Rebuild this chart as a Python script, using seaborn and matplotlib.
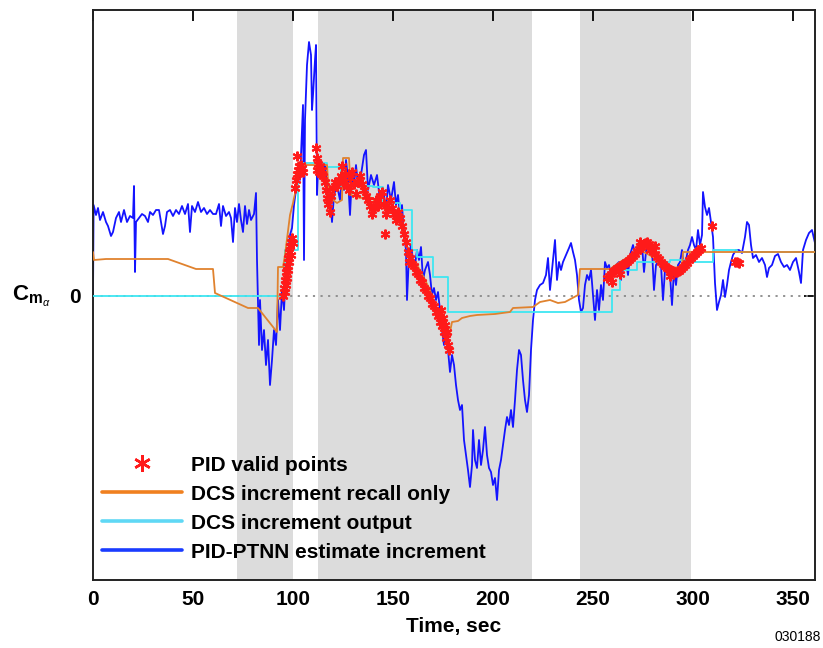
import matplotlib
matplotlib.use("Agg")
import matplotlib.pyplot as plt
from matplotlib.lines import Line2D
import seaborn as sns
import pandas as pd

sns.set_theme(style="white")
plt.rcParams["font.family"] = ["Liberation Sans", "DejaVu Sans"]
plt.rcParams["text.color"] = "black"
plt.rcParams["axes.labelcolor"] = "black"
plt.rcParams["xtick.color"] = "black"
plt.rcParams["ytick.color"] = "black"
plt.rcParams["mathtext.fontset"] = "custom"
plt.rcParams["mathtext.rm"] = "Liberation Sans"
plt.rcParams["mathtext.bf"] = "Liberation Sans:bold"
plt.rcParams["mathtext.it"] = "Liberation Sans:italic"

# ---------------- data ----------------
shaded_spans = [(71.8, 100.2), (112.3, 219.3), (243.5, 298.8)]

blue_t = [0, 0.3, 1.5, 2.5, 3.5, 5, 6.5, 7.5, 9, 10, 11.5, 13, 14, 15.5, 17, 18.5, 20, 20.5, 21, 21.5,
          23, 24.5, 26, 27.5, 28.5, 30, 31.5, 33, 34, 35, 36, 37, 38.5, 40, 41.5, 43, 44.5, 46, 47.5, 48.5,
          49.5, 51, 52.5, 54, 55.5, 57, 58.5, 60, 61.5, 63, 64, 65, 66.5, 68, 69, 70, 71, 72, 73, 74,
          75, 76, 77, 78, 79, 80.5, 81.5, 82, 83, 83.5, 84.5, 85.5, 86.5, 87.5, 88.5, 89.5, 90.5, 91.5, 92.5, 93.5,
          94.5, 95.5, 96.5, 97.5, 98.5, 99.5, 100.5, 101.5, 102.5, 103.5, 104.5, 105, 105.5, 106, 107, 108, 109, 109.5,
          110, 111, 111.5, 112, 112.5, 113.5, 114.5, 116, 117, 118.5, 119.5, 120.5, 122, 123.5, 124.5, 125.5, 126.5, 127.5,
          128.5, 129.5, 130.5, 131.5, 132.5, 134, 135.5, 136.5, 137.5, 139, 140.5, 142, 143.5, 145, 146.5, 147.5, 149, 150.5,
          151.5, 152.5, 153.5, 154.5, 155.5, 156.5, 157, 158, 159, 160, 161, 162, 163, 164, 165, 166, 167.5, 168.5,
          169.5, 170.5, 171.5, 172.5, 173.5, 174.5, 175.5, 176.5, 177.5, 178.5, 179.5, 180.5, 181.5, 182.5, 183.5, 184.5, 185.5, 186.5,
          187.5, 188.5, 189.5, 190, 191, 192, 193, 194, 195, 196, 197, 198, 199, 200, 201, 202, 203, 204,
          205, 206, 207, 208, 209, 210, 211, 212, 213, 214, 215, 216, 217, 218, 219, 220, 221, 222,
          223.5, 225, 226.5, 227.5, 228.5, 229.5, 231, 232, 233, 234, 235, 236.5, 238, 239, 240, 241, 242, 243,
          244, 245, 246, 247, 248, 249, 250, 251, 252, 253, 254, 255, 256, 257, 258, 259, 260, 261.5,
          263, 264, 265, 266.5, 267.5, 268.5, 270, 271.5, 273, 274.5, 275.5, 276.5, 277.5, 278.5, 279.5, 280.5, 281.5, 282.5,
          284, 285, 286, 287.5, 288.5, 289.5, 290.5, 291.5, 292.5, 293.5, 294.5, 295.5, 296.5, 297.5, 298.5, 299.5, 300.5, 301.5,
          302.5, 303.5, 304.5, 305, 306, 307, 308, 309, 310, 311, 312, 313, 314, 315, 316, 317, 318, 319,
          320, 321.5, 323, 324.5, 326, 327, 328, 329, 330, 331.5, 333, 334.5, 336, 337, 338, 339.5, 341, 342.5,
          344, 345.5, 347, 348.5, 350, 351.5, 353, 354, 355, 356.5, 358, 359.5, 361]
blue_y = [0.00, 0.91, 0.81, 0.88, 0.76, 0.84, 0.74, 0.70, 0.60, 0.64, 0.78, 0.84, 0.74, 0.86, 0.74, 0.80, 0.78, 1.10, 0.24, 0.74,
          0.78, 0.82, 0.80, 0.74, 0.84, 0.81, 0.86, 0.86, 0.74, 0.62, 0.70, 0.84, 0.86, 0.80, 0.86, 0.82, 0.90, 0.82, 0.92, 0.64,
          0.90, 0.84, 0.94, 0.84, 0.88, 0.82, 0.86, 0.82, 0.82, 0.92, 0.70, 0.90, 0.80, 0.84, 0.78, 0.54, 0.88, 0.74, 0.92, 0.76,
          0.64, 0.90, 0.72, 0.86, 0.76, 0.82, 1.03, 0.36, -0.49, -0.04, -0.54, -0.34, -0.69, -0.44, -0.89, -0.64, -0.34, -0.49, -0.04, -0.34,
          0.06, -0.14, 0.26, 0.41, 0.61, 0.68, 0.91, 1.06, 1.21, 1.16, 1.66, 1.91, 0.36, 1.76, 2.31, 2.54, 2.41, 1.86,
          2.01, 2.36, 2.51, 1.01, 1.26, 1.36, 1.21, 1.31, 1.11, 1.01, 0.74, 1.01, 1.11, 0.96, 1.21, 1.06, 1.36, 1.18,
          0.81, 1.21, 1.11, 1.31, 1.11, 1.21, 1.41, 1.46, 1.06, 1.21, 1.11, 1.21, 0.96, 1.08, 0.86, 1.11, 0.96, 1.14,
          0.91, 1.01, 0.81, 0.91, 0.61, 0.46, -0.04, 0.41, 0.51, 0.36, 0.31, 0.46, 0.36, 0.49, 0.16, 0.26, 0.34, 0.21,
          0.01, 0.08, -0.04, 0.04, -0.14, -0.34, -0.49, -0.44, -0.54, -0.76, -0.59, -0.69, -0.89, -1.04, -1.14, -1.09, -1.44, -1.59,
          -1.74, -1.91, -1.69, -1.34, -1.64, -1.72, -1.44, -1.69, -1.54, -1.31, -1.59, -1.72, -1.76, -1.89, -1.82, -2.04, -1.74, -1.64,
          -1.49, -1.34, -1.21, -1.29, -1.14, -1.31, -1.04, -0.74, -0.54, -0.59, -0.84, -1.04, -1.16, -0.99, -0.54, -0.24, -0.04, 0.06,
          0.11, 0.13, 0.21, 0.38, 0.06, 0.26, 0.56, 0.16, 0.34, 0.26, 0.34, 0.41, 0.48, 0.53, 0.44, 0.36, 0.21, -0.04,
          -0.16, -0.12, 0.11, 0.21, 0.16, 0.26, 0.01, -0.24, 0.06, -0.14, 0.11, -0.04, 0.34, 0.28, 0.31, 0.21, 0.28, 0.31,
          0.34, 0.16, 0.36, 0.34, 0.21, 0.41, 0.51, 0.38, 0.46, 0.51, 0.24, 0.44, 0.54, 0.41, 0.46, 0.06, 0.31, 0.34,
          0.31, -0.04, 0.26, 0.28, 0.21, -0.09, 0.26, 0.11, 0.31, 0.34, 0.46, 0.26, 0.36, 0.46, 0.51, 0.59, 0.51, 0.46,
          0.66, 0.51, 0.61, 1.04, 0.89, 0.81, 0.88, 0.74, 0.59, 0.13, -0.14, -0.06, 0.01, 0.16, -0.01, 0.11, 0.26, 0.34,
          0.41, 0.46, 0.46, 0.43, 0.59, 0.74, 0.71, 0.51, 0.38, 0.41, 0.34, 0.38, 0.31, 0.19, 0.28, 0.31, 0.40, 0.42,
          0.34, 0.29, 0.31, 0.26, 0.34, 0.38, 0.24, 0.13, 0.46, 0.56, 0.63, 0.66, 0.53]

orange_t = [0, 0.5, 6.5, 37.5, 51.5, 60, 61, 77.5, 82.5, 92, 92.5, 95, 96, 98.5, 100, 102, 103.5, 117, 118,
            120, 122, 124.5, 125, 128, 129, 133.5, 138.5, 143.5, 148.5, 153.5, 156, 158.5, 163.5, 168.5, 173.5, 177,
            178.5, 179.5, 182.5, 184.5, 188.5, 192, 201, 208.5, 210, 220, 223.5, 228.5, 232.5, 236, 242.5, 243.5,
            258.5, 263.5, 273.5, 281, 288.5, 294.5, 295, 361]
orange_y = [0.44, 0.36, 0.37, 0.37, 0.27, 0.27, 0.03, -0.12, -0.12, -0.36, 0.29, 0.29, 0.41, 0.81, 0.93, 1.13, 1.31, 1.31, 1.01,
            0.96, 0.93, 0.96, 1.38, 1.38, 1.01, 0.98, 0.99, 0.91, 0.86, 0.76, 0.56, 0.41, 0.26, 0.06, -0.24, -0.39,
            -0.36, -0.26, -0.25, -0.22, -0.20, -0.19, -0.18, -0.16, -0.12, -0.11, -0.06, -0.04, -0.07, -0.06, 0.01, 0.27,
            0.27, 0.34, 0.46, 0.38, 0.28, 0.29, 0.44, 0.44]

cyan_t = [0, 96, 102.5, 117, 124, 140, 145, 153.5, 159.5, 162, 170, 177.5, 259.5, 263.5, 272, 288.5, 299, 310, 322, 361]
cyan_y = [0.00, 0.46, 1.33, 1.29, 1.10, 1.09, 0.93, 0.86, 0.46, 0.39, 0.19, -0.16, 0.06, 0.26, 0.34, 0.36, 0.34, 0.46, 0.44, 0.44]

red_t = [95, 95.5, 96, 96, 96.5, 96.5, 97, 97, 97.5, 97.5, 98, 98, 98.5, 99, 99, 99.5, 100,
         101, 101.5, 102, 102, 102.5, 103, 103.5, 104, 104.5, 105,
         111.5, 112, 112, 112.5, 113, 113.5, 114, 114.5, 115, 116, 116.5, 117, 117.5, 118.5, 119, 120, 121, 122,
         123, 124, 124.5, 125, 126, 127, 128, 128.5, 129.5, 130.5, 131.5, 132.5, 133.5, 134.5, 135.5, 136.5, 137.5,
         138.5, 139.5, 140.5, 141.5, 142.5, 143.5, 144.5, 145.5, 146, 146.5, 147.5, 148.5, 149.5, 150.5, 151.5, 152.5,
         153.5, 154.5, 155.5, 156.5, 157.5, 158, 158.5, 159.5, 160.5, 161.5, 162.5, 163.5, 164.5, 165.5, 166.5, 167.5,
         168.5, 169.5, 170.5, 171.5, 172.5, 173.5, 174, 174.5, 175, 175.5, 176, 176.5, 177, 177.5, 178,
         257, 258, 259, 259.5, 260, 261, 262, 263, 263.5, 264, 265, 266, 267, 268, 269, 270, 271, 272, 273, 273.5,
         274, 275, 276, 277, 278, 278.5, 279, 280, 281, 281, 282, 283, 284, 285, 286, 287, 288, 288.5, 289, 290,
         291, 292, 293, 294, 295, 296, 297, 298, 299, 300, 301, 302, 303, 304, 309.5, 321, 322, 323]
red_y = [0.00, 0.08, 0.16, 0.04, 0.24, 0.11, 0.30, 0.18, 0.38, 0.26, 0.44, 0.34, 0.50, 0.54, 0.41, 0.58, 0.53,
         1.08, 1.16, 1.40, 1.22, 1.26, 1.30, 1.24, 1.31, 1.28, 1.24,
         1.48, 1.38, 1.26, 1.32, 1.24, 1.30, 1.22, 1.26, 1.20, 1.14, 1.06, 0.98, 0.92, 0.84, 1.00, 1.08, 1.14, 1.10,
         1.16, 1.20, 1.30, 1.14, 1.22, 1.10, 1.06, 1.18, 1.24, 1.12, 1.02, 1.14, 1.20, 1.12, 1.06, 1.00, 0.96,
         0.90, 0.82, 0.88, 0.96, 0.90, 1.00, 1.04, 0.92, 0.62, 0.82, 0.88, 0.96, 0.88, 0.82, 0.76, 0.84,
         0.78, 0.70, 0.62, 0.54, 0.44, 0.34, 0.38, 0.32, 0.30, 0.24, 0.22, 0.16, 0.14, 0.08, 0.06, 0.00,
         -0.02, -0.08, -0.10, -0.16, -0.20, -0.26, -0.14, -0.30, -0.22, -0.36, -0.29, -0.42, -0.36, -0.49, -0.54,
         0.18, 0.20, 0.22, 0.14, 0.25, 0.26, 0.28, 0.29, 0.22, 0.30, 0.32, 0.33, 0.34, 0.36, 0.38, 0.40, 0.42, 0.45, 0.47, 0.54,
         0.49, 0.51, 0.53, 0.54, 0.52, 0.46, 0.49, 0.46, 0.42, 0.50, 0.39, 0.37, 0.34, 0.32, 0.30, 0.28, 0.27, 0.20, 0.26, 0.25,
         0.24, 0.24, 0.25, 0.27, 0.29, 0.31, 0.33, 0.36, 0.38, 0.40, 0.42, 0.44, 0.46, 0.48, 0.70, 0.34, 0.34, 0.33]

x_ticks = [0, 50, 100, 150, 200, 250, 300, 350]
y_ticks = [0]
legend_labels = ["PID valid points", "DCS increment recall only",
                 "DCS increment output", "PID-PTNN estimate increment"]

# colours
c_blue = "#1414ff"
c_orange = "#e0822e"
c_cyan = "#3ee6f2"
c_red = "#ff1a1a"
c_shade = "#dcdcdc"

# ---------------- figure ----------------
fig = plt.figure(figsize=(8.23, 6.48), dpi=100)
ax = fig.add_axes([93 / 823, 68 / 648, 722 / 823, 570 / 648])

for a, b in shaded_spans:
    ax.axvspan(a, b, color=c_shade, lw=0, zorder=0)
ax.axhline(0, color="#8a8a8a", ls=(0, (1.2, 3)), lw=1.3, zorder=1)

blue_df = pd.DataFrame({"t": blue_t, "y": blue_y})
orange_df = pd.DataFrame({"t": orange_t, "y": orange_y})
cyan_df = pd.DataFrame({"t": cyan_t, "y": cyan_y})
red_df = pd.DataFrame({"t": red_t, "y": red_y})

sns.lineplot(data=blue_df, x="t", y="y", ax=ax, color=c_blue, lw=1.3,
             estimator=None, sort=False, zorder=2)
sns.lineplot(data=cyan_df, x="t", y="y", ax=ax, color=c_cyan, lw=1.3,
             estimator=None, sort=False, drawstyle="steps-post", zorder=3)
sns.lineplot(data=orange_df, x="t", y="y", ax=ax, color=c_orange, lw=1.3,
             estimator=None, sort=False, zorder=4)
sns.lineplot(data=red_df, x="t", y="y", ax=ax, color=c_red, ls="",
             marker=(6, 2, 0), markersize=7, markeredgewidth=1.5,
             markeredgecolor=c_red, markerfacecolor=c_red,
             estimator=None, sort=False, zorder=5)

ax.set_xlim(0, 361)
ax.set_ylim(-2.84, 2.86)
ax.set_xticks(x_ticks)
ax.set_xticklabels([str(v) for v in x_ticks], fontweight="bold")
ax.set_yticks(y_ticks)
ax.set_yticklabels(["0"], fontweight="bold")
ax.tick_params(axis="both", direction="in", length=8, width=1.3, labelsize=15,
               top=True, right=True, colors="black", pad=7)
ax.tick_params(axis="y", pad=9)
for s in ax.spines.values():
    s.set_color("#222222")
    s.set_linewidth(1.4)

ax.set_xlabel("Time, sec", fontsize=15, fontweight="bold", labelpad=6, color="black")
ax.set_ylabel("")

fig.text(12 / 823, (648 - 296) / 648, r"$\mathbf{C}_{\mathbf{m}_{\alpha}}$",
         fontsize=16, ha="left", va="center", color="black")
fig.text(0.997, 0.006, "030188", fontsize=10, ha="right", va="bottom", color="black")

handles = [
    Line2D([], [], ls="", marker=(6, 2, 0), color=c_red, markersize=12, markeredgewidth=1.8),
    Line2D([], [], color="#f08020", lw=2.6),
    Line2D([], [], color="#5fd8f5", lw=2.6),
    Line2D([], [], color="#1a3cff", lw=2.6),
]
leg = ax.legend(handles, legend_labels, loc="lower left", bbox_to_anchor=(0.012, 0.032),
                frameon=False, prop={"size": 15, "weight": "bold"},
                handlelength=3.85, handletextpad=0.45, labelspacing=0.48,
                borderpad=0, borderaxespad=0)
for txt in leg.get_texts():
    txt.set_color("black")

fig.savefig("out.png", dpi=100)
